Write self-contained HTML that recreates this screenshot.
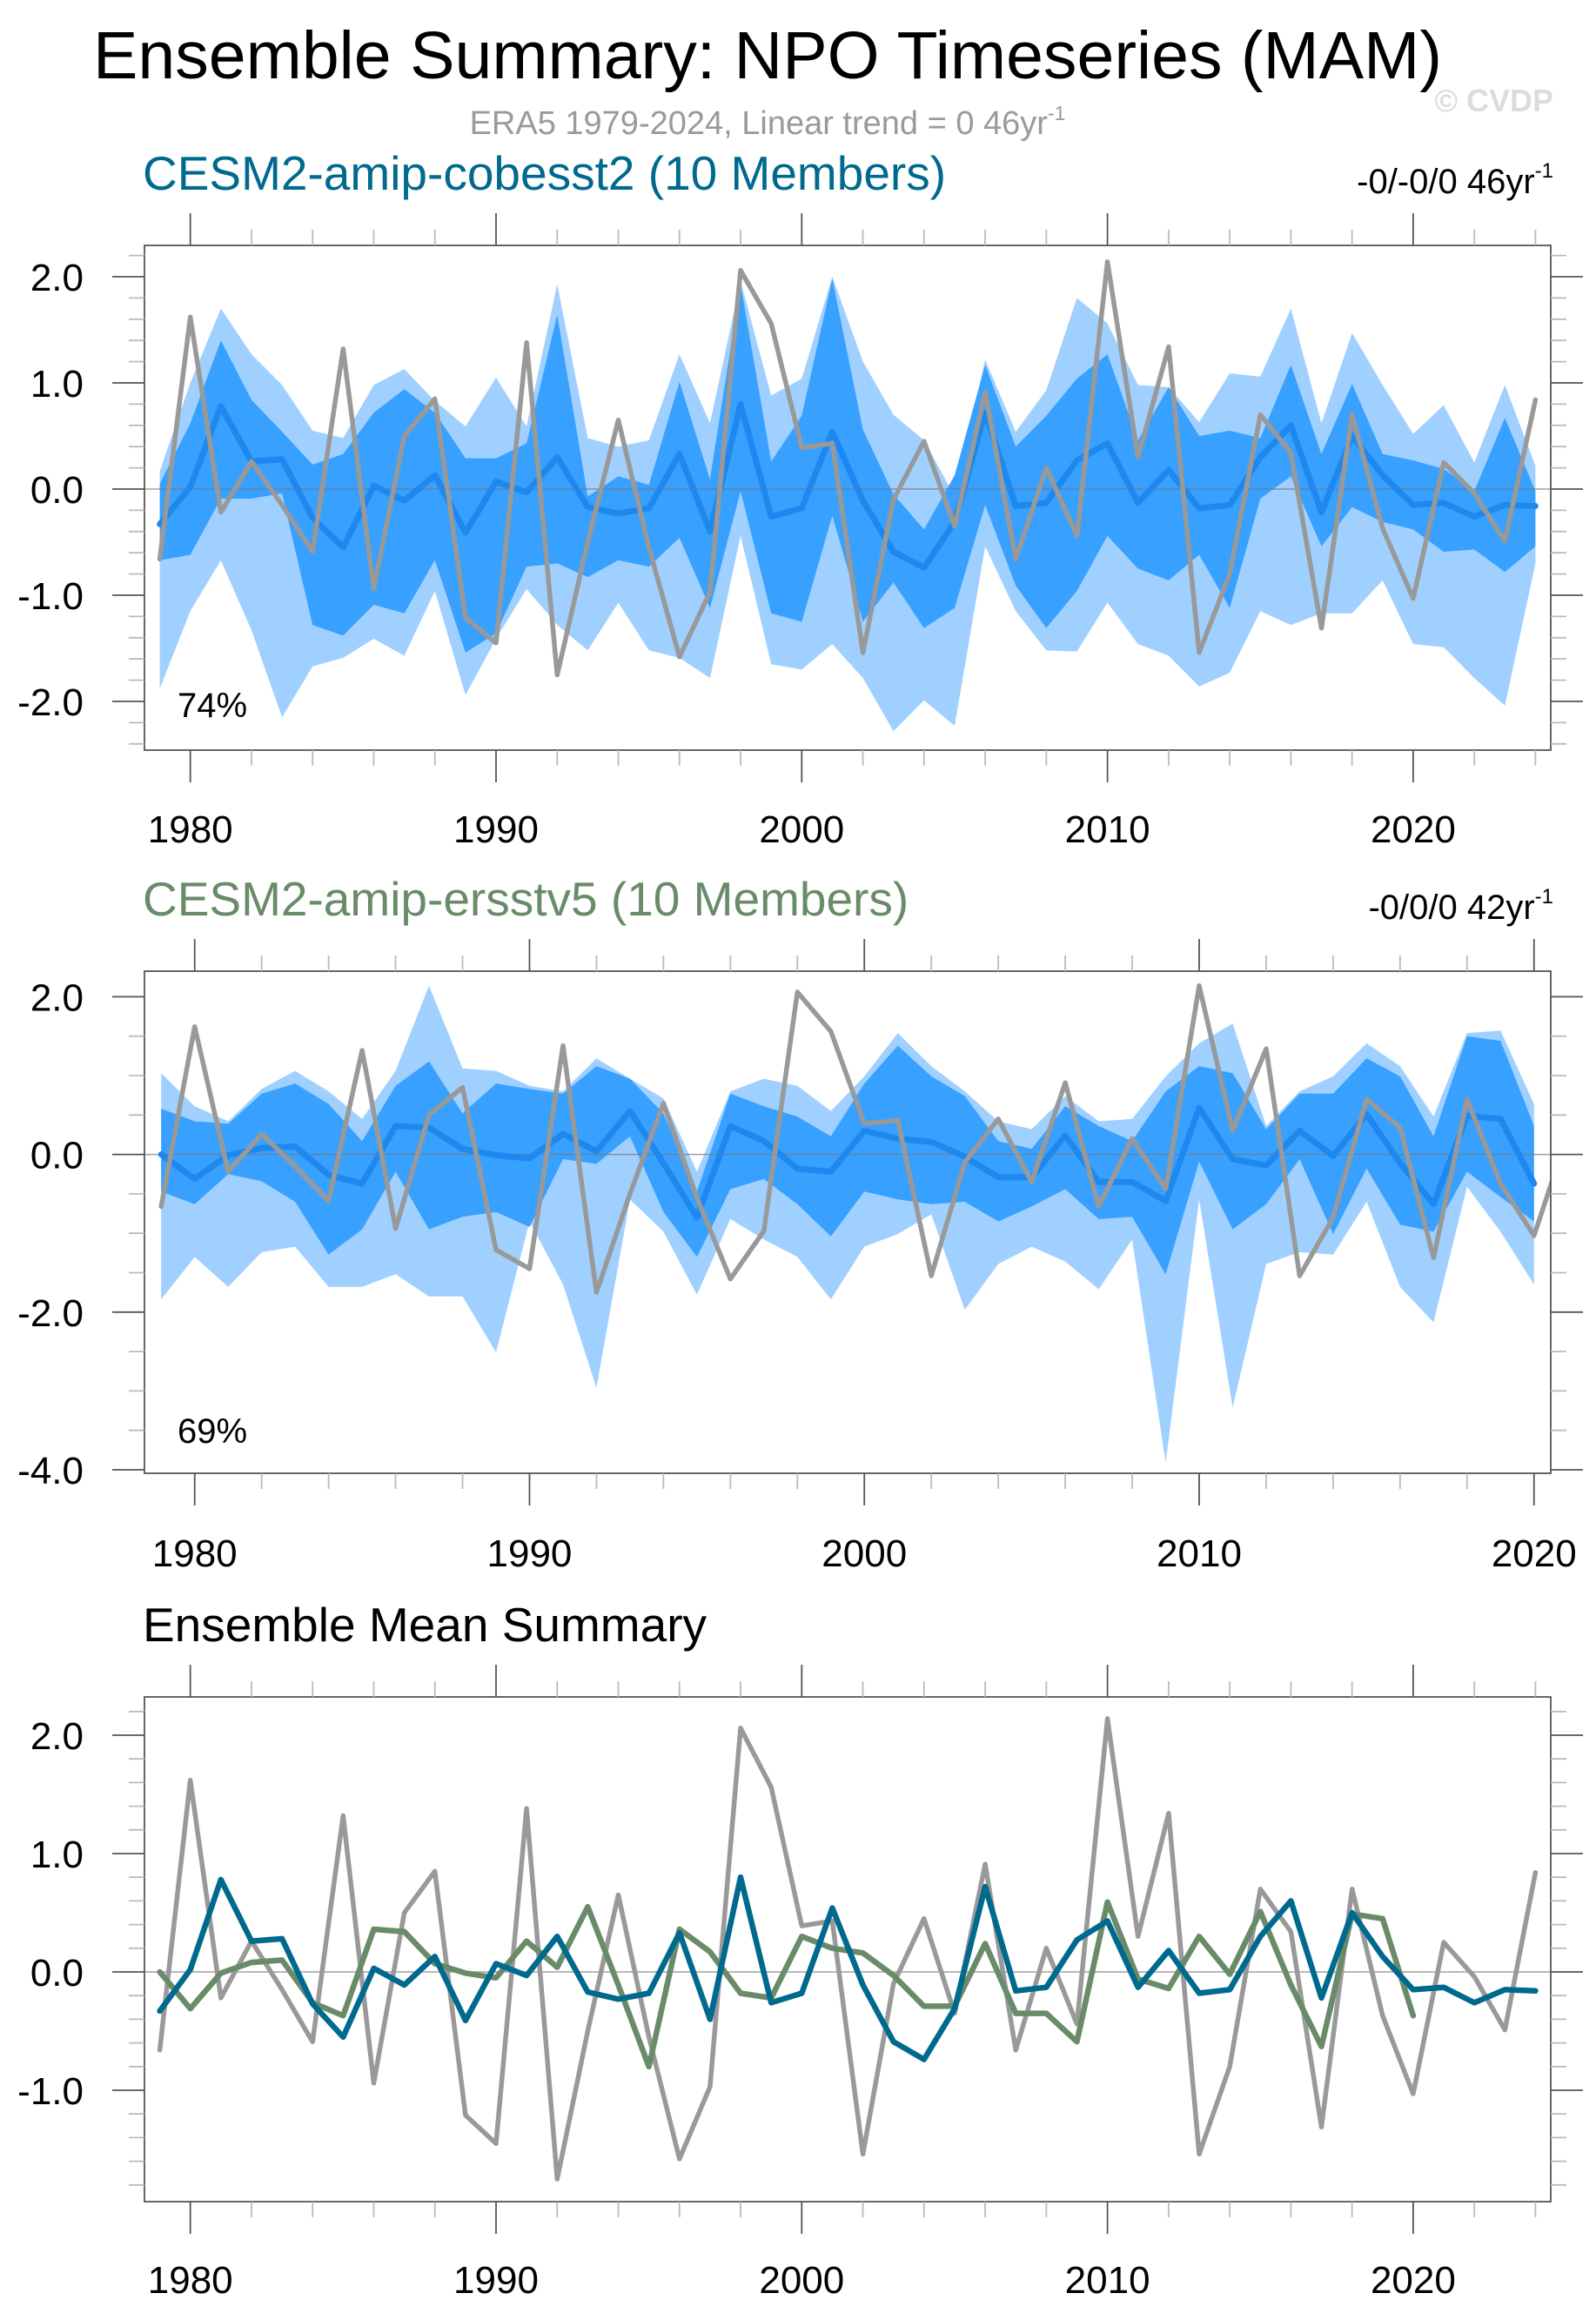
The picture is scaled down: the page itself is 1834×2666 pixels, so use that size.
<!DOCTYPE html>
<html><head><meta charset="utf-8">
<style>
html,body{margin:0;padding:0;background:#fff;}
svg{display:block;font-family:"Liberation Sans",Arial,sans-serif;}
</style></head>
<body>
<svg id="fig" width="1834" height="2666" viewBox="0 0 1834 2666" xmlns="http://www.w3.org/2000/svg">
<rect width="1834" height="2666" fill="#fff"/>
<text x="882" y="90" font-size="77" text-anchor="middle" fill="#000" textLength="1550" lengthAdjust="spacingAndGlyphs">Ensemble Summary: NPO Timeseries (MAM)</text>
<text x="882" y="154" font-size="38" text-anchor="middle" fill="#9a9a9a">ERA5 1979-2024, Linear trend = 0 46yr<tspan dy="-16" font-size="23">-1</tspan></text>
<text x="1785" y="128" font-size="36" font-weight="bold" text-anchor="end" fill="#dcdcdc">© CVDP</text>

<text x="164" y="218" font-size="55" fill="#00698e">CESM2-amip-cobesst2 (10 Members)</text>
<text x="1785" y="222" font-size="40" text-anchor="end" fill="#000">-0/-0/0 46yr<tspan dy="-18" font-size="24">-1</tspan></text>
<text x="164" y="1052" font-size="55" fill="#698b69">CESM2-amip-ersstv5 (10 Members)</text>
<text x="1785" y="1056" font-size="40" text-anchor="end" fill="#000">-0/0/0 42yr<tspan dy="-18" font-size="24">-1</tspan></text>
<text x="164" y="1886" font-size="55" fill="#000">Ensemble Mean Summary</text>

<g id="p1"></g>
<g id="p2"></g>
<g id="p3"></g>
</svg>
<script>
const years1 = [1979,1980,1981,1982,1983,1984,1985,1986,1987,1988,1989,1990,1991,1992,1993,1994,1995,1996,1997,1998,1999,2000,2001,2002,2003,2004,2005,2006,2007,2008,2009,2010,2011,2012,2013,2014,2015,2016,2017,2018,2019,2020,2021,2022,2023,2024];
const obs = [-0.66,1.62,-0.22,0.26,-0.15,-0.59,1.32,-0.94,0.5,0.85,-1.21,-1.45,1.38,-1.75,-0.5,0.65,-0.55,-1.58,-0.97,2.06,1.56,0.39,0.43,-1.54,-0.1,0.45,-0.35,0.91,-0.66,0.2,-0.44,2.14,0.3,1.34,-1.54,-0.8,0.7,0.34,-1.31,0.7,-0.37,-1.03,0.25,-0.04,-0.49,0.84];
const meanCobe = [-0.33,0.02,0.78,0.26,0.28,-0.27,-0.55,0.03,-0.11,0.13,-0.41,0.07,-0.03,0.3,-0.17,-0.23,-0.18,0.33,-0.4,0.8,-0.26,-0.18,0.54,-0.11,-0.59,-0.74,-0.31,0.72,-0.16,-0.13,0.27,0.43,-0.13,0.18,-0.18,-0.15,0.3,0.6,-0.22,0.5,0.13,-0.15,-0.13,-0.26,-0.15,-0.16];
const cobeMaxHi = [0.17,1.0,1.7,1.27,0.98,0.55,0.48,0.98,1.13,0.83,0.59,1.05,0.59,1.93,0.48,0.4,0.46,1.27,0.62,1.96,0.88,1.04,2.0,1.2,0.7,0.46,-0.07,1.22,0.54,0.93,1.8,1.56,0.98,0.96,0.63,1.09,1.06,1.7,0.62,1.47,0.98,0.52,0.79,0.25,0.98,0.22];
const cobeQHi = [0.05,0.62,1.4,0.84,0.54,0.23,0.33,0.72,0.94,0.72,0.29,0.29,0.43,1.64,-0.07,0.12,0.04,1.01,0.09,1.93,0.26,0.69,1.98,0.56,-0.05,-0.38,0.13,1.17,0.4,0.69,1.04,1.27,0.46,0.96,0.5,0.55,0.48,1.17,0.33,0.99,0.33,0.27,0.19,-0.02,0.67,-0.02];
const cobeQLo = [-0.67,-0.62,-0.09,-0.09,-0.04,-1.28,-1.38,-1.09,-1.17,-0.67,-1.54,-1.36,-0.73,-0.7,-0.83,-0.67,-0.73,-0.46,-1.12,-0.02,-1.17,-1.25,-0.25,-1.25,-0.88,-1.31,-1.12,-0.15,-0.91,-1.31,-0.96,-0.44,-0.75,-0.86,-0.62,-1.12,-0.09,0.12,-0.54,-0.17,-0.31,-0.38,-0.59,-0.57,-0.78,-0.54];
const cobeMinLo = [-1.88,-1.15,-0.67,-1.33,-2.15,-1.67,-1.59,-1.41,-1.57,-0.96,-1.94,-1.41,-0.94,-1.28,-1.52,-1.07,-1.52,-1.59,-1.78,-0.44,-1.65,-1.7,-1.46,-1.78,-2.28,-1.99,-2.23,-0.54,-1.15,-1.52,-1.53,-1.07,-1.46,-1.57,-1.86,-1.73,-1.15,-1.28,-1.17,-1.17,-0.86,-1.46,-1.49,-1.78,-2.04,-0.7];

const years2 = [1979,1980,1981,1982,1983,1984,1985,1986,1987,1988,1989,1990,1991,1992,1993,1994,1995,1996,1997,1998,1999,2000,2001,2002,2003,2004,2005,2006,2007,2008,2009,2010,2011,2012,2013,2014,2015,2016,2017,2018,2019,2020];
const meanErsst = [0,-0.31,-0.01,0.08,0.1,-0.26,-0.37,0.36,0.34,0.07,-0.01,-0.05,0.26,0.04,0.55,-0.11,-0.8,0.36,0.17,-0.18,-0.22,0.3,0.2,0.16,-0.03,-0.29,-0.29,0.24,-0.35,-0.35,-0.59,0.59,-0.06,-0.14,0.3,-0.02,0.51,-0.11,-0.63,0.49,0.45,-0.37];
const ersMaxHi = [1.03,0.61,0.42,0.83,1.06,0.8,0.45,1.06,2.14,1.09,1.06,0.87,0.8,1.22,0.96,0.71,-0.22,0.8,0.96,0.87,0.55,0.99,1.54,1.12,0.8,0.42,0.32,0.74,0.42,0.45,0.99,1.41,1.66,0.36,0.8,0.99,1.41,1.12,0.48,1.54,1.57,0.64];
const ersQHi = [0.58,0.42,0.39,0.77,0.9,0.64,0.17,0.87,1.18,0.52,0.9,0.83,0.77,1.12,0.96,0.52,-0.47,0.77,0.61,0.48,0.23,0.9,1.38,0.99,0.74,0.17,0.07,0.61,0.36,0.17,0.8,1.12,1.03,0.32,0.77,0.77,1.22,0.99,0.23,1.5,1.44,0.36];
const ersQLo = [-0.47,-0.63,-0.25,-0.34,-0.6,-1.27,-0.95,-0.22,-0.95,-0.79,-0.73,-0.92,-0.06,-0.12,0.23,-0.73,-1.3,-0.44,-0.31,-0.63,-1.04,-0.47,-0.57,-0.63,-0.6,-0.85,-0.66,-0.44,-0.82,-0.79,-1.52,-0.09,-0.95,-0.63,-0.06,-1.01,-0.18,-0.89,-0.98,-0.22,-0.54,-0.85];
const ersMinLo = [-1.84,-1.3,-1.68,-1.24,-1.17,-1.68,-1.68,-1.52,-1.8,-1.8,-2.51,-0.85,-1.65,-2.96,-0.57,-0.98,-1.78,-0.82,-1.08,-1.3,-1.84,-1.17,-1.01,-0.76,-1.97,-1.39,-1.17,-1.36,-1.71,-1.08,-3.91,-0.57,-3.21,-1.39,-1.24,-1.27,-0.6,-1.68,-2.13,-0.41,-0.98,-1.65];

const xTicks1 = [1980,1990,2000,2010,2020];
const yTicks1 = [2.0,1.0,0.0,-1.0,-2.0];
const yTickLabels1 = ["2.0","1.0","0.0","-1.0","-2.0"];
const yTicks2 = [2.0,0.0,-2.0,-4.0];
const yTickLabels2 = ["2.0","0.0","-2.0","-4.0"];
const yTicks3 = [2.0,1.0,0.0,-1.0];
const yTickLabels3 = ["2.0","1.0","0.0","-1.0"];

const NS = "http://www.w3.org/2000/svg";
function mk(tag, attrs, parent){
  const e = document.createElementNS(NS, tag);
  for (const k in attrs) e.setAttribute(k, attrs[k]);
  parent.appendChild(e);
  return e;
}
function panel(g, cfg){
  const L=166, R=1782, T=cfg.top, B=cfg.bottom;
  const sx = y => L + (y - cfg.x0)/(cfg.x1 - cfg.x0)*(R-L);
  const sy = v => cfg.zeroY - v*cfg.unit;
  const clipId = g.id + "-clip";
  const cp = mk("clipPath", {id: clipId}, g);
  mk("rect", {x:L, y:T, width:R-L, height:B-T}, cp);
  const plot = mk("g", {"clip-path":"url(#"+clipId+")"}, g);
  
  
  function band(yrs, hi, lo, fill, name){
    let d = "";
    yrs.forEach((y,i)=>{ d += (i?"L":"M") + sx(y).toFixed(1) + "," + sy(hi[i]).toFixed(1); });
    for (let i=yrs.length-1;i>=0;i--) d += "L" + sx(yrs[i]).toFixed(1) + "," + sy(lo[i]).toFixed(1);
    const p = mk("path", {d: d+"Z", fill: fill, stroke: "none"}, plot);
    
    
  }
  function line(yrs, vals, color, w, name){
    const pts = yrs.map((y,i)=> sx(y).toFixed(1)+","+sy(vals[i]).toFixed(1)).join(" ");
    const p = mk("polyline", {points: pts, fill:"none", stroke: color, "stroke-width": w, "stroke-linejoin":"round", "stroke-linecap":"round"}, plot);
    
    
  }
  if (cfg.bands){
    band(cfg.years, cfg.bands[0], cfg.bands[3], "#a0d0ff", "ensemble-range-band");
    band(cfg.years, cfg.bands[1], cfg.bands[2], "#38a0ff", "ensemble-interquartile-band");
  }
  const z = mk("line", {x1:L, x2:R, y1:sy(0), y2:sy(0), stroke:"#777", "stroke-width":1.5, "stroke-opacity":0.7}, plot);
  
  
  cfg.lines.forEach(l => line(l.years, l.vals, l.color, l.w, l.name));
  const fr = mk("rect", {x:L, y:T, width:R-L, height:B-T, fill:"none", stroke:"#555", "stroke-width":1.8}, g);
  
  
  const xt = mk("g", {}, g);
  
  
  for (let y = Math.ceil(cfg.x0); y <= cfg.x1; y++){
    if (y % 2 !== 0) continue;
    const major = (y % 10 === 0);
    const len = major ? 37 : 18;
    const col = major ? "#555" : "#bbb";
    const x = sx(y);
    mk("line", {x1:x, x2:x, y1:T, y2:T-len, stroke:col, "stroke-width":1.8}, xt);
    mk("line", {x1:x, x2:x, y1:B, y2:B+len, stroke:col, "stroke-width":1.8}, xt);
  }
  xTicks1.forEach(y=>{
    if (y < cfg.x0 || y > cfg.x1) return;
    const t = mk("text", {x: sx(y), y: cfg.xLabelY, "font-size":44, "text-anchor":"middle", fill:"#000"}, xt);
    t.textContent = String(y);
    
    
  });
  const yt = mk("g", {}, g);
  
  
  for (let k = Math.ceil(cfg.vMin/cfg.minor); k*cfg.minor <= cfg.vMax + 1e-9; k++){
    const v = k*cfg.minor;
    const yy = sy(v);
    if (yy < T-0.5 || yy > B+0.5) continue;
    const major = Math.abs(v/cfg.major - Math.round(v/cfg.major)) < 1e-6;
    const len = major ? 37 : 18;
    const col = major ? "#555" : "#bbb";
    mk("line", {x1:L, x2:L-len, y1:yy, y2:yy, stroke:col, "stroke-width":1.8}, yt);
    mk("line", {x1:R, x2:R+len, y1:yy, y2:yy, stroke:col, "stroke-width":1.8}, yt);
  }
  cfg.yTicks.forEach((v,i)=>{
    const t = mk("text", {x: 96, y: sy(v)+16, "font-size":44, "text-anchor":"end", fill:"#000"}, yt);
    t.textContent = cfg.yLabels[i];
    
    
  });
  if (cfg.pct){
    const t = mk("text", {x:204, y:cfg.pctY, "font-size":40, fill:"#000"}, g);
    t.textContent = cfg.pct;
    
    
  }
}
panel(document.getElementById("p1"), {
  top:282, bottom:862, x0:1978.5, x1:2024.5, zeroY:562, unit:122,
  vMin:-2.5, vMax:2.4, minor:0.2, major:1.0, yTicks:yTicks1, yLabels:yTickLabels1, xLabelY:968,
  years:years1, bands:[cobeMaxHi,cobeQHi,cobeQLo,cobeMinLo],
  lines:[{years:years1, vals:meanCobe, color:"#1e88ee", w:7, name:"ensemble-mean-line"},
         {years:years1, vals:obs, color:"#999", w:5.5, name:"era5-observed-line"}],
  pct:"74%", pctY:824
});
panel(document.getElementById("p2"), {
  top:1116, bottom:1693, x0:1978.5, x1:2020.5, zeroY:1326.6, unit:90.6,
  vMin:-4.1, vMax:2.4, minor:0.5, major:2.0, yTicks:yTicks2, yLabels:yTickLabels2, xLabelY:1800,
  years:years2, bands:[ersMaxHi,ersQHi,ersQLo,ersMinLo],
  lines:[{years:years2, vals:meanErsst, color:"#1e88ee", w:7, name:"ensemble-mean-line"},
         {years:years1, vals:obs, color:"#999", w:5.5, name:"era5-observed-line"}],
  pct:"69%", pctY:1658
});
panel(document.getElementById("p3"), {
  top:1950, bottom:2530, x0:1978.5, x1:2024.5, zeroY:2266, unit:136,
  vMin:-2.0, vMax:2.4, minor:0.2, major:1.0, yTicks:yTicks3, yLabels:yTickLabels3, xLabelY:2635,
  years:years1, bands:null,
  lines:[{years:years1, vals:obs, color:"#999", w:5.5, name:"era5-observed-line"},
         {years:years2, vals:meanErsst, color:"#698b69", w:6.5, name:"ersstv5-ensemble-mean-line"},
         {years:years1, vals:meanCobe, color:"#00698e", w:6.5, name:"cobesst2-ensemble-mean-line"}]
});
</script>
</body></html>
